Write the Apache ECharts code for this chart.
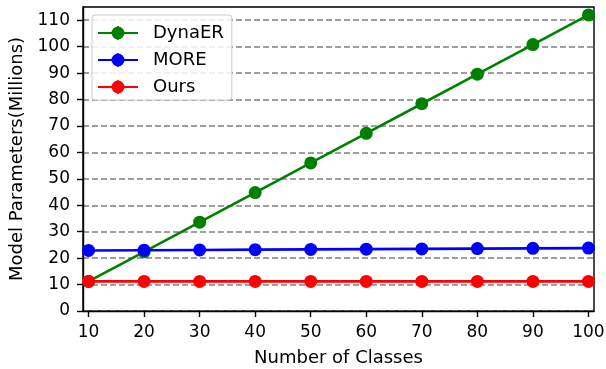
<!DOCTYPE html>
<html>
<head>
<meta charset="utf-8">
<script src="https://cdn.jsdelivr.net/npm/echarts@6/dist/echarts.min.js"></script>
<style>html,body{margin:0;padding:0;background:#fff;}#c{width:606px;height:369px;}</style>
</head>
<body>
<div id="c"></div>
<script>
var classes = [10, 20, 30, 40, 50, 60, 70, 80, 90, 100];
var dynaER = [11.2, 22.4, 33.6, 44.8, 56.0, 67.2, 78.4, 89.6, 100.8, 112.0];
var more = [22.9, 23.0, 23.1, 23.2, 23.3, 23.4, 23.5, 23.6, 23.7, 23.8];
var ours = [11.2, 11.2, 11.2, 11.2, 11.2, 11.2, 11.2, 11.2, 11.2, 11.2];
var seriesNames = ['DynaER', 'MORE', 'Ours'];
var yTicks = [0, 10, 20, 30, 40, 50, 60, 70, 80, 90, 100, 110];
var xTicks = [10, 20, 30, 40, 50, 60, 70, 80, 90, 100];

var FONT = 'DejaVu Sans';
function pairs(ys) { return classes.map(function (x, i) { return [x, ys[i]]; }); }
var icon = 'path://M0,6 L40,6 L40,8 L0,8 Z M13.5,7 A6.5,6.5 0 1,1 26.5,7 A6.5,6.5 0 1,1 13.5,7 Z M19.2,0 L20.8,0 L20.8,14 L19.2,14 Z';
function mk(name, ys, color) {
  return {
    name: name, type: 'line', data: pairs(ys),
    symbol: 'circle', symbolSize: 13,
    lineStyle: { color: color, width: 2.6 },
    itemStyle: { color: color },
    animation: false
  };
}
var chart = echarts.init(document.getElementById('c'), null, { renderer: 'canvas' });
chart.setOption({
  backgroundColor: '#fff',
  textStyle: { fontFamily: FONT },
  grid: { left: 83, right: 12, top: 7, bottom: 58, containLabel: false, outerBoundsMode: 'none', show: true, borderColor: '#000', borderWidth: 1.4, backgroundColor: '#fff' },
  legend: {
    orient: 'vertical', left: 92, top: 15,
    data: seriesNames.map(function (n) { return { name: n, icon: icon }; }),
    itemWidth: 40, itemHeight: 14, itemGap: 9,
    padding: [9, 8, 4, 6],
    backgroundColor: 'rgba(255,255,255,0.85)',
    borderColor: '#cccccc', borderWidth: 1, borderRadius: 3,
    textStyle: { fontFamily: FONT, fontSize: 18, color: '#000', padding: [0, 0, 0, 10] }
  },
  xAxis: {
    type: 'value', min: 9, max: 101,
    name: 'Number of Classes', nameLocation: 'middle', nameGap: 38,
    nameTextStyle: { fontFamily: FONT, fontSize: 18, color: '#000' },
    axisLine: { lineStyle: { color: '#000', width: 1.4 } },
    axisTick: { show: true, length: 6, customValues: xTicks, lineStyle: { color: '#000', width: 1.4 } },
    axisLabel: { customValues: xTicks, fontFamily: FONT, fontSize: 17, color: '#000', margin: 13 },
    splitLine: { show: false }
  },
  yAxis: {
    type: 'value', min: 0, max: 115,
    name: 'Model Parameters(Millions)', nameLocation: 'middle', nameGap: 51,
    nameTextStyle: { fontFamily: FONT, fontSize: 18, color: '#000' },
    axisLine: { show: true, lineStyle: { color: '#000', width: 1.4 } },
    axisTick: { show: true, length: 6, customValues: yTicks, lineStyle: { color: '#000', width: 1.4 } },
    axisLabel: { customValues: yTicks, fontFamily: FONT, fontSize: 17, color: '#000', margin: 13 },
    splitLine: { show: true, lineStyle: { color: '#808080', width: 1.7, type: [6, 3] } }
  },
  series: [mk('DynaER', dynaER, '#008000'), mk('MORE', more, '#0000ff'), mk('Ours', ours, '#ff0000')]
});
</script>
</body>
</html>
